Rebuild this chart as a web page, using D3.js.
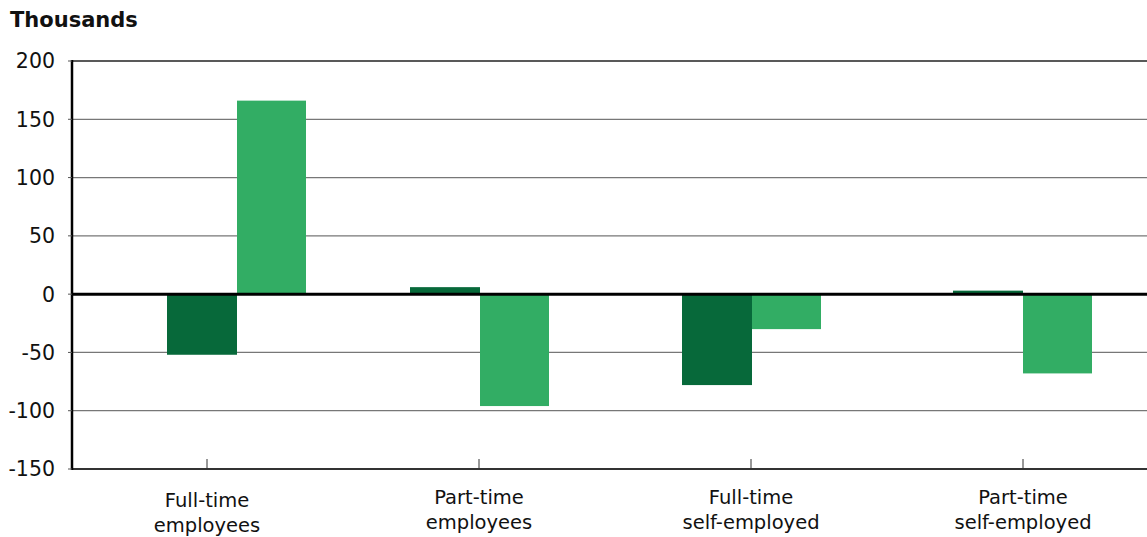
<!DOCTYPE html>
<html><head><meta charset="utf-8">
<script src="https://cdn.jsdelivr.net/npm/d3@7"></script>
<style>body{margin:0;background:#fff}svg{display:block}text{font-family:"DejaVu Sans",sans-serif}</style>
</head><body><svg id="c" width="1147" height="537"></svg>
<script>
const categories = [["Full-time","employees"],["Part-time","employees"],["Full-time","self-employed"],["Part-time","self-employed"]];
const seriesDark = [-52, 6, -78, 3];
const seriesLight = [166, -96, -30, -68];
const yTicks = [200, 150, 100, 50, 0, -50, -100, -150];
const colors = {dark:"#07693A", light:"#32AD64"};

const svg = d3.select("#c");
const mLeft = 72, mRight = 1147, mTop = 61, mBottom = 469;
const y = d3.scaleLinear().domain([-150, 200]).range([mBottom, mTop]);
const x = d3.scaleBand().domain(d3.range(categories.length)).range([71, 1159]).paddingInner(0).paddingOuter(0);
const barW = 70;
const groupShift = [30, 1, 1, 0];

// gridlines
svg.append("g").selectAll("line").data(yTicks.filter(d => d !== 0 && d !== -150)).join("line")
  .attr("x1", mLeft).attr("x2", mRight).attr("y1", d => y(d)).attr("y2", d => y(d))
  .attr("stroke", d => d === 200 ? "#222" : "#777").attr("stroke-width", 1.3);
// bottom axis line
svg.append("line").attr("x1", mLeft).attr("x2", mRight).attr("y1", y(-150)).attr("y2", y(-150)).attr("stroke", "#333").attr("stroke-width", 1.8);

// bars
const g = svg.append("g");
categories.forEach((c, i) => {
  const cx = x(i) + x.bandwidth() / 2 + groupShift[i];
  const dv = seriesDark[i], lv = seriesLight[i];
  g.append("rect").attr("x", cx - barW).attr("width", barW)
    .attr("y", y(Math.max(0, dv))).attr("height", Math.abs(y(dv) - y(0))).attr("fill", colors.dark);
  g.append("rect").attr("x", cx).attr("width", barW - 1)
    .attr("y", y(Math.max(0, lv))).attr("height", Math.abs(y(lv) - y(0))).attr("fill", colors.light);
});

// zero line
svg.append("line").attr("x1", mLeft).attr("x2", mRight).attr("y1", y(0)).attr("y2", y(0)).attr("stroke", "#000").attr("stroke-width", 3);
// left axis
svg.append("line").attr("x1", mLeft).attr("x2", mLeft).attr("y1", mTop - 1).attr("y2", mBottom + 1).attr("stroke", "#000").attr("stroke-width", 2.5);
// y tick marks
svg.append("g").selectAll("line").data(yTicks).join("line")
  .attr("x1", mLeft - 4).attr("x2", mLeft).attr("y1", d => y(d)).attr("y2", d => y(d)).attr("stroke", "#555").attr("stroke-width", 1);

// y labels
svg.append("g").selectAll("text").data(yTicks).join("text")
  .attr("x", 55).attr("y", d => y(d)).attr("dy", "0.36em").attr("text-anchor", "end")
  .attr("font-size", 20.5).attr("fill", "#111").text(d => d);

// x ticks
svg.append("g").selectAll("line").data(d3.range(categories.length)).join("line")
  .attr("x1", i => x(i) + x.bandwidth() / 2).attr("x2", i => x(i) + x.bandwidth() / 2)
  .attr("y1", mBottom - 10).attr("y2", mBottom).attr("stroke", "#333").attr("stroke-width", 1);

// x labels
const xl = svg.append("g").selectAll("text").data(categories).join("text")
  .attr("text-anchor", "middle").attr("font-size", 19.5).attr("fill", "#111");
xl.each(function(d, i) {
  const t = d3.select(this);
  const cx = x(i) + x.bandwidth() / 2;
  t.append("tspan").attr("x", cx).attr("y", i === 0 ? 507 : 504).text(d[0]);
  t.append("tspan").attr("x", cx).attr("y", i === 0 ? 532 : 529).text(d[1]);
});

svg.append("text").attr("x", 10).attr("y", 27).attr("font-size", 21).attr("font-weight", "bold").attr("fill", "#111").text("Thousands");
</script></body></html>
